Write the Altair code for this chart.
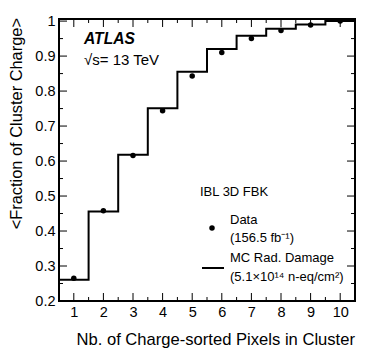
import altair as alt
import pandas as pd

# ---- data ----
pixels = [1, 2, 3, 4, 5, 6, 7, 8, 9, 10]
data_frac = [0.265, 0.458, 0.616, 0.744, 0.843, 0.910, 0.950, 0.973, 0.989, 1.000]
mc_frac = [0.261, 0.456, 0.618, 0.751, 0.855, 0.920, 0.958, 0.978, 0.990, 1.000]

y_major = [0.3, 0.4, 0.5, 0.6, 0.7, 0.8, 0.9, 1.0]
y_minor = [0.25, 0.35, 0.45, 0.55, 0.65, 0.75, 0.85, 0.95]
y_labels = [0.2, 0.3, 0.4, 0.5, 0.6, 0.7, 0.8, 0.9, 1.0]
x_major = pixels
x_minor = [1.5, 2.5, 3.5, 4.5, 5.5, 6.5, 7.5, 8.5, 9.5]

W, H = 296, 282
FONT = "Liberation Sans"

xs = alt.Scale(domain=[0.5, 10.5], nice=False, zero=False)
ys = alt.Scale(domain=[0.2, 1.006], nice=False, zero=False)

AX = alt.Axis(values=x_major, ticks=False, domain=False, grid=False, title=None,
              labelFont=FONT, labelFontSize=14.5, labelColor="black", labelPadding=4,
              format="d")
AY = alt.Axis(values=y_labels, ticks=False, domain=False, grid=False, title=None,
              labelFont=FONT, labelFontSize=14.5, labelColor="black", labelPadding=4,
              labelExpr="datum.value == 1 ? '1' : format(datum.value, '.1f')")

# histogram edges for step line
edges = [p - 0.5 for p in pixels] + [pixels[-1] + 0.5]
step_df = pd.DataFrame({"x": edges, "y": mc_frac + [mc_frac[-1]]})
pts_df = pd.DataFrame({"x": pixels, "y": data_frac})

step = alt.Chart(step_df).mark_line(
    interpolate="step-after", color="black", strokeWidth=2
).encode(
    x=alt.X("x:Q", scale=xs, axis=AX),
    y=alt.Y("y:Q", scale=ys, axis=AY),
)

points = alt.Chart(pts_df).mark_circle(color="black", opacity=1, size=30).encode(
    x=alt.X("x:Q", scale=xs, axis=AX),
    y=alt.Y("y:Q", scale=ys, axis=AY),
)


def yticks(vals, length):
    df = pd.DataFrame({"v": vals})
    left = alt.Chart(df).mark_rule(color="black", strokeWidth=1).encode(
        y=alt.Y("v:Q", scale=ys, axis=AY), x=alt.value(0), x2=alt.value(length))
    right = alt.Chart(df).mark_rule(color="black", strokeWidth=1).encode(
        y=alt.Y("v:Q", scale=ys, axis=AY), x=alt.value(W - length), x2=alt.value(W))
    return [left, right]


def xticks(vals, length):
    df = pd.DataFrame({"v": vals})
    bottom = alt.Chart(df).mark_rule(color="black", strokeWidth=1).encode(
        x=alt.X("v:Q", scale=xs, axis=AX), y=alt.value(H), y2=alt.value(H - length))
    top = alt.Chart(df).mark_rule(color="black", strokeWidth=1).encode(
        x=alt.X("v:Q", scale=xs, axis=AX), y=alt.value(0), y2=alt.value(length))
    return [bottom, top]


one = pd.DataFrame({"a": [0]})


def label(txt, x, y, size=13, align="left", baseline="middle", angle=0,
          weight="normal", style="normal"):
    return alt.Chart(one).mark_text(
        text=txt, font=FONT, fontSize=size, align=align, baseline=baseline,
        angle=angle, fontWeight=weight, fontStyle=style, color="black"
    ).encode(x=alt.value(x), y=alt.value(y))


legend_dot = alt.Chart(one).mark_circle(color="black", opacity=1, size=30).encode(
    x=alt.value(153), y=alt.value(209))
legend_line = alt.Chart(one).mark_rule(color="black", strokeWidth=2).encode(
    x=alt.value(143), x2=alt.value(165), y=alt.value(249))

layers = (
    [step, points]
    + yticks(y_major, 8) + yticks(y_minor, 4) + xticks(x_major, 8) + xticks(x_minor, 4)
    + [
        label("ATLAS", 25, 20, size=15.6, weight="bold", style="italic"),
        label("√s= 13 TeV", 25, 41, size=15),
        label("IBL 3D FBK", 141, 173, size=13),
        legend_dot,
        label("Data", 171, 201, size=13),
        label("(156.5 fb⁻¹)", 171, 219, size=13),
        legend_line,
        label("MC Rad. Damage", 171, 239, size=13),
        label("(5.1×10¹⁴ n-eq/cm²)", 171, 258, size=13),
        label("Nb. of Charge-sorted Pixels in Cluster", W, 321, size=16.6, align="right"),
        label("<Fraction of Cluster Charge>", -42, -1, size=16.4, align="right", angle=270),
    ]
)

chart = alt.layer(*layers).properties(
    width=W, height=H,
    autosize=alt.AutoSizeParams(type="none"),
    padding={"left": 51, "top": 11, "right": 11, "bottom": 50},
).configure_view(stroke="black", strokeWidth=2)

chart.save("out.html", embed_options={"renderer": "svg", "actions": False})
